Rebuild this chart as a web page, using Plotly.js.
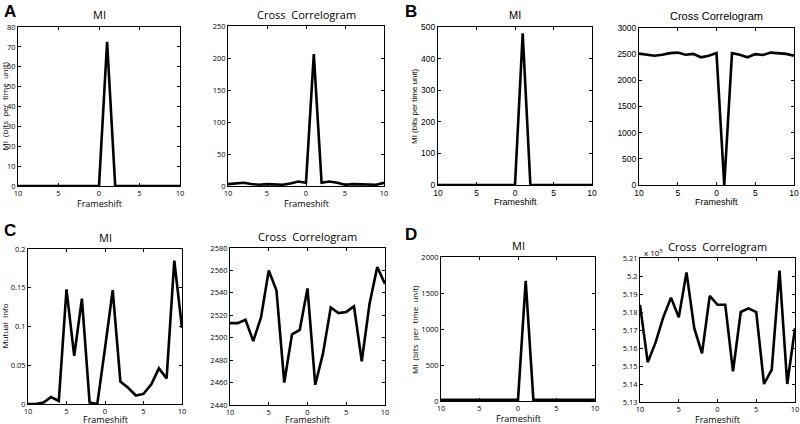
<!DOCTYPE html>
<html>
<head>
<meta charset="utf-8">
<script src="https://cdn.plot.ly/plotly-3.0.1.min.js"></script>
<style>html,body{margin:0;padding:0;background:#fff;}#chart{width:800px;height:424px;}</style>
</head>
<body>
<div id="chart"></div>
<script>
// ---- Data ----
const frameshift = [-10,-9,-8,-7,-6,-5,-4,-3,-2,-1,0,1,2,3,4,5,6,7,8,9,10];
const xTickVals = [-10,-5,0,5,10];
const xTickText = ['10','5','0','5','10'];

const miA = [0,0,0,0,0,0,0,0,0,0,0,72.5,0,0,0,0,0,0,0,0,0];
const ccA = [3,4,5,3,2,3,3,2,4,7,5,206,5,7,5,2,3,3,2,2,5];
const miB = [0,0,0,0,0,0,0,0,0,0,0,480,0,0,0,0,0,0,0,0,0];
const ccB = [2510,2495,2470,2490,2520,2530,2490,2505,2440,2470,2520,0,2520,2490,2440,2500,2485,2530,2520,2505,2470];
const miC = [0,0,0.002,0.009,0.004,0.148,0.062,0.136,0.002,0,0.072,0.147,0.029,0.021,0.011,0.013,0.025,0.046,0.033,0.185,0.098];
const ccC = [2513,2513,2516,2497,2518,2560,2542,2460,2503,2507,2544,2458,2486,2527,2522,2523,2528,2479,2530,2563,2548];
const miD = [15,15,15,15,15,15,15,15,15,15,15,1670,15,15,15,15,15,15,15,15,15];
const ccD = [5.184,5.152,5.163,5.177,5.188,5.177,5.202,5.171,5.157,5.189,5.184,5.184,5.147,5.180,5.182,5.180,5.140,5.148,5.203,5.140,5.171]; // x 10^5

const yTicksA_mi = [0,10,20,30,40,50,60,70,80];
const yTicksA_cc = [0,50,100,150,200,250];
const yTicksB_mi = [0,100,200,300,400,500];
const yTicksB_cc = [0,500,1000,1500,2000,2500,3000];
const yTicksC_mi = [0,0.05,0.1,0.15,0.2];
const yTicksC_cc = [2440,2460,2480,2500,2520,2540,2560,2580];
const yTicksD_mi = [0,500,1000,1500,2000];
const yTicksD_cc = [5.13,5.14,5.15,5.16,5.17,5.18,5.19,5.2,5.21];

const titles = ['MI','Cross  Correlogram','MI','Cross Correlogram','MI','Cross  Correlogram','MI','Cross  Correlogram'];
const yTitles = ['MI  (bits  per  time  unit)','','MI (bits per time unit)','','Mutual  Info','','MI  (bits  per  time  unit)',''];
const panelLabels = ['A','B','C','D'];

// ---- Layout geometry (pixels) ----
const W = 800, H = 424;
const boxes = [
  [18,180,27,186],[228,384,26,186],[438,592,27,185],[639,794,28,185],
  [28,182,249,404],[230,385,248,405],[441,595,257,401],[640,795,258,402]
];
const series = [miA,ccA,miB,ccB,miC,ccC,miD,ccD];
const yTicks = [yTicksA_mi,yTicksA_cc,yTicksB_mi,yTicksB_cc,yTicksC_mi,yTicksC_cc,yTicksD_mi,yTicksD_cc];
const fontA = 'Open Sans, Liberation Sans, Arial, sans-serif';
const fontB = 'Liberation Sans, Arial, sans-serif';

const px = v => v / W, py = v => 1 - v / H;
const traces = [], layout = {
  width: W, height: H, margin: {l:0,r:0,t:0,b:0},
  paper_bgcolor: '#fff', plot_bgcolor: '#fff', showlegend: false,
  annotations: []
};

series.forEach((ys, i) => {
  const n = i + 1;
  const sfx = n === 1 ? '' : String(n);
  const b = boxes[i];
  const isB = (i === 2 || i === 3);
  const fam = isB ? fontB : fontA;
  traces.push({x: frameshift, y: ys, type: 'scatter', mode: 'lines',
    line: {color: '#000', width: 2.6}, xaxis: 'x' + sfx, yaxis: 'y' + sfx, hoverinfo: 'skip'});
  const yt = yTicks[i];
  const common = {showgrid: false, zeroline: false, showline: true, linecolor: '#000', linewidth: 1,
    mirror: 'ticks', ticks: 'inside', ticklen: 3, tickcolor: '#000', tickwidth: 1,
    tickfont: {family: fam, size: isB ? 8.5 : 7.5, color: '#000'}};
  layout['xaxis' + sfx] = Object.assign({}, common, {
    domain: [px(b[0]), px(b[1])], anchor: 'y' + sfx, range: [-10, 10],
    tickmode: 'array', tickvals: xTickVals, ticktext: xTickText, ticklabelstandoff: 0
  });
  let ttext = yt.map(v => String(v));
  if (i === 7) ttext = yt.map(v => String(+v.toFixed(2)));
  layout['yaxis' + sfx] = Object.assign({}, common, {
    domain: [py(b[3]), py(b[2])], anchor: 'x' + sfx, range: [yt[0], yt[yt.length-1]],
    tickmode: 'array', tickvals: yt, ticktext: ttext, ticklabelstandoff: 0
  });
  // title
  layout.annotations.push({xref: 'paper', yref: 'paper', x: px((b[0]+b[1])/2), y: py(b[2] - 12),
    text: titles[i], showarrow: false, xanchor: 'center', yanchor: 'middle',
    font: {family: fam, size: 11, color: '#000'}});
  // x title
  const fy = Math.min(b[3] + 17, 419);
  layout.annotations.push({xref: 'paper', yref: 'paper', x: px((b[0]+b[1])/2), y: py(fy),
    text: 'Frameshift', showarrow: false, xanchor: 'center', yanchor: 'middle', borderpad: 0,
    font: {family: fam, size: 9, color: '#000'}});
  if (yTitles[i]) {
    const leftX = (i === 0 || i === 4) ? 4 : 414;
    layout.annotations.push({xref: 'paper', yref: 'paper', x: px(leftX), y: py((b[2]+b[3])/2),
      text: yTitles[i], showarrow: false, textangle: -90, xanchor: 'center', yanchor: 'middle', borderpad: 0,
      font: {family: fam, size: 8, color: '#000'}});
  }
});

// exponent label for D cross correlogram
layout.annotations.push({xref: 'paper', yref: 'paper', x: px(642), y: py(252),
  text: 'x 10<sup>5</sup>', showarrow: false, xanchor: 'left', yanchor: 'middle',
  font: {family: fontA, size: 8, color: '#000'}});

// panel labels
const labelPos = [[2,12],[403,12],[2,231],[403,234]];
panelLabels.forEach((t, k) => {
  layout.annotations.push({xref: 'paper', yref: 'paper', x: px(labelPos[k][0]), y: py(labelPos[k][1]),
    text: '<b>' + t + '</b>', showarrow: false, xanchor: 'left', yanchor: 'middle',
    font: {family: fontB, size: 17, color: '#000'}});
});

Plotly.newPlot('chart', traces, layout, {staticPlot: true, displayModeBar: false});
</script>
</body>
</html>
